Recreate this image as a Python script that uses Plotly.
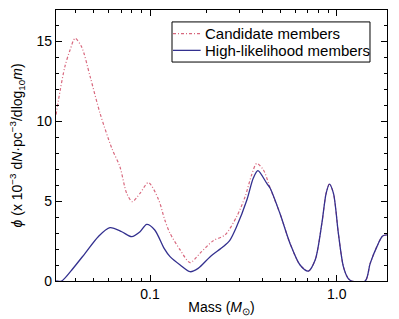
import plotly.graph_objects as go

# Candidate members
cand_mass = [0.0314, 0.033, 0.035, 0.0373, 0.0397, 0.043, 0.0478, 0.054, 0.0624, 0.069, 0.075,
             0.0804, 0.0884, 0.098, 0.111, 0.12, 0.128, 0.145, 0.164, 0.185, 0.218, 0.252,
             0.291, 0.323, 0.35, 0.373, 0.405, 0.44, 0.497, 0.562, 0.636, 0.704, 0.766, 0.832,
             0.877, 0.913, 0.96, 1.02, 1.085, 1.15, 1.2, 1.42, 1.51, 1.64, 1.76, 1.86]
cand_phi = [10.4, 11.9, 13.4, 14.44, 15.17, 14.64, 12.77, 10.48, 8.3, 7.14, 5.48,
            4.96, 5.48, 6.15, 5.1, 3.81, 2.98, 1.94, 1.15, 1.73, 2.52, 2.88,
            4.02, 5.27, 6.63, 7.35, 6.94, 5.8, 4.2, 2.35, 1.0, 0.62, 1.31, 3.6,
            5.48, 6.06, 5.48, 2.98, 0.9, 0.17, 0.0, 0.0, 1.1, 2.15, 2.81, 2.88]

# High-likelihood members
hl_mass = [0.0314, 0.0336, 0.0381, 0.0449, 0.0528, 0.061, 0.0706, 0.0798, 0.0884, 0.096, 0.106,
           0.119, 0.128, 0.145, 0.164, 0.181, 0.21, 0.247, 0.268, 0.291, 0.33, 0.357, 0.378,
           0.422, 0.44, 0.497, 0.562, 0.636, 0.704, 0.766, 0.832, 0.877, 0.913, 0.96, 1.02,
           1.085, 1.15, 1.2, 1.42, 1.51, 1.64, 1.76, 1.86]
hl_phi = [0.0, 0.0, 0.69, 1.73, 2.77, 3.33, 3.08, 2.77, 3.08, 3.54, 3.19,
          2.04, 1.52, 1.0, 0.58, 0.79, 1.52, 2.15, 2.56, 3.4, 5.06, 6.42, 6.9,
          6.1, 5.8, 4.2, 2.35, 1.0, 0.62, 1.31, 3.6, 5.48, 6.06, 5.48, 2.98,
          0.9, 0.17, 0.0, 0.0, 1.1, 2.15, 2.81, 2.88]

series_names = ["Candidate members", "High-likelihood members"]
x_tickvals = [0.1, 1.0]
x_ticktext = ["0.1", "1.0"]
x_minor = [0.04, 0.05, 0.06, 0.07, 0.08, 0.09, 0.2, 0.3, 0.4, 0.5, 0.6, 0.7, 0.8, 0.9]
y_tickvals = [0, 5, 10, 15]

cand_color = "#d8687e"
hl_color = "#33308f"
cand_dash = "3px,2px,1px,2px"

fig = go.Figure()
fig.add_trace(go.Scatter(x=cand_mass, y=cand_phi, mode="lines", name=series_names[0], showlegend=False,
                         line=dict(color=cand_color, width=1.2, dash=cand_dash, shape="spline", smoothing=0.8)))
fig.add_trace(go.Scatter(x=hl_mass, y=hl_phi, mode="lines", name=series_names[1], showlegend=False,
                         line=dict(color=hl_color, width=1.3, shape="spline", smoothing=0.8)))

axis_common = dict(showline=True, linecolor="black", linewidth=1.2, mirror="ticks",
                   ticks="inside", tickcolor="black", showgrid=False, zeroline=False,
                   automargin=False, tickfont=dict(size=14, color="black"))

fig.update_xaxes(type="log", range=[-1.5035, 0.269], tickvals=x_tickvals, ticktext=x_ticktext,
                 ticklen=6, tickwidth=1,
                 minor=dict(tickvals=x_minor, ticks="inside", ticklen=3, tickcolor="black", tickwidth=1),
                 title=dict(text="Mass (<i>M</i><sub>⊙</sub>)", font=dict(size=14, color="black"), standoff=1),
                 **axis_common)
fig.update_yaxes(range=[0, 16.94], tickvals=y_tickvals, ticklen=6, tickwidth=1,
                 minor=dict(dtick=1, ticks="inside", ticklen=3, tickcolor="black", tickwidth=1),
                 **axis_common)

# y-axis title as rotated annotation for exact placement
fig.add_annotation(xref="paper", yref="paper", x=-0.118, y=0.5, xanchor="center", yanchor="middle",
                   textangle=-90, showarrow=False,
                   text="<i>ϕ</i> (x 10<sup>−3</sup> d<i>N</i>·pc<sup>−3</sup>/dlog<sub>10</sub><i>m</i>)",
                   font=dict(size=14, color="black"))

# custom legend box
fig.add_shape(type="rect", xref="paper", yref="paper", x0=0.3505, x1=0.9486, y0=0.808, y1=0.956,
              line=dict(color="black", width=1), fillcolor="white", layer="above")
leg_rows = [0.913, 0.851]
leg_styles = [dict(color=cand_color, width=1.2, dash=cand_dash), dict(color=hl_color, width=1.3)]
for name, yy, st in zip(series_names, leg_rows, leg_styles):
    fig.add_shape(type="line", xref="paper", yref="paper", x0=0.3535, x1=0.437, y0=yy, y1=yy,
                  line=st, layer="above")
    fig.add_annotation(xref="paper", yref="paper", x=0.443, y=yy, xanchor="left", yanchor="middle",
                       showarrow=False, text=name, font=dict(size=15, color="black"))

fig.update_layout(
    width=399, height=319,
    margin=dict(l=56, r=12, t=10, b=38),
    paper_bgcolor="white", plot_bgcolor="white",
    font=dict(family="Liberation Sans, Arial, sans-serif", color="black"),
    showlegend=False,
)

fig.write_html("out.html", config={"displayModeBar": False},
               post_script="document.body.style.margin='0';document.body.style.overflow='hidden';")
